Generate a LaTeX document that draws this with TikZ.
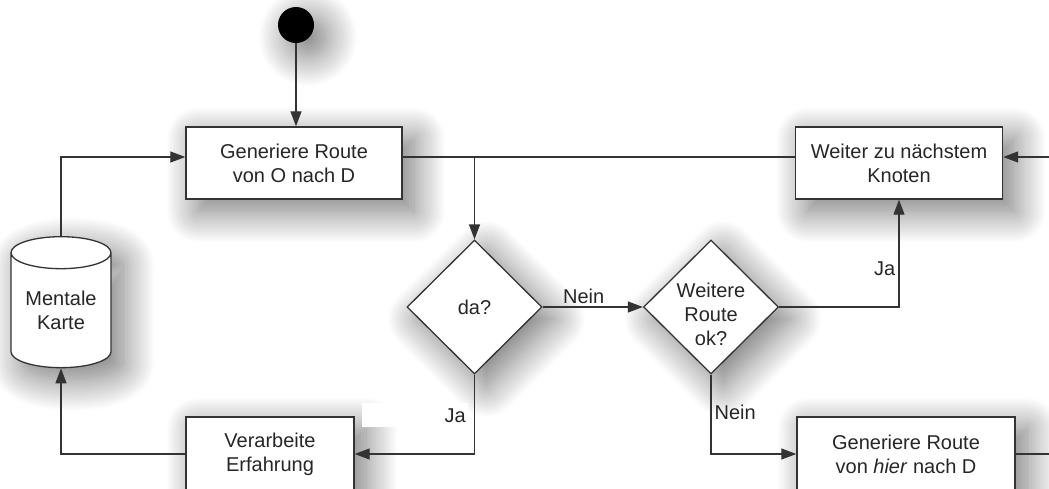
\documentclass[tikz,border=0pt]{standalone}
\usepackage{fontspec}
\setmainfont{Liberation Sans}
\usetikzlibrary{shapes.geometric,arrows.meta,shadows.blur}
\begin{document}
\begin{tikzpicture}[x=1pt,y=-1pt,
  font=\fontsize{20}{24}\selectfont,
  every node/.style={text=black!85},
  dropshadow/.style={blur shadow={shadow xshift=12pt,shadow yshift=-12pt,shadow blur radius=32pt,
    shadow blur steps=24,shadow opacity=55}},
  box/.style={draw=black!80,line width=1.4pt,fill=white,rectangle,align=center,inner sep=0pt,dropshadow},
  decision/.style={draw=black!80,line width=1.3pt,fill=white,diamond,inner sep=0pt,
    minimum width=135pt,minimum height=134pt,dropshadow},
  store/.style={draw=black!80,line width=1.3pt,fill=white,cylinder,shape border rotate=90,
    aspect=0.45,minimum width=100pt,minimum height=131pt,align=center,inner sep=0pt,dropshadow},
  flow/.style={draw=black!80,line width=1.3pt},
  arr/.style={flow,-{Triangle[length=15pt,width=11pt]}},
  tag/.style={inner sep=3pt}]

\useasboundingbox (0,0) rectangle (1049,488);

% nodes
\node[fill=black,circle,minimum size=36pt,inner sep=0pt,dropshadow] (start) at (296,25) {};
\node[box,minimum width=216pt,minimum height=72pt] (gen1) at (294,163) {Generiere Route\\von O nach D};
\node[box,minimum width=207pt,minimum height=72pt] (next) at (899,163) {Weiter zu nächstem\\Knoten};
\node[decision] (da) at (474.5,307) {};
\node (daq) at (474.5,307) {da?};
\node[decision] (ok) at (711,307) {};
\node[align=center] (okq) at (711,314) {Weitere\\Route\\ok?};
\node[box,minimum width=218pt,minimum height=74pt] (gen2) at (906,454) {Generiere Route\\von \textit{hier} nach D};
\node[box,minimum width=168pt,minimum height=74pt] (proc) at (270,454) {Verarbeite\\Erfahrung};
\node[store] (map) at (61,310.5) {Mentale\\Karte};

% free ends at the picture border
\coordinate (inR) at (1049,157);
\coordinate (outR) at (1049,454);

% connectors
\draw[arr] (start) -- (start |- gen1.north);
\draw[flow] ([yshift=6pt]gen1.east) -- ([yshift=6pt]next.west);
\draw[arr] (da.north |- inR) -- (da.north);
\draw[arr] (inR) -- (next.east |- inR);
\draw[arr] (da.east) -- node[tag,pos=0.41,above] (nein1) {Nein} (ok.west);
\draw[arr] (ok.east) -| node[tag,pos=0.68,left] (ja1) {Ja} (next.south);
\draw[arr] (ok.south) |- node[tag,pos=0.238,right] (nein2) {Nein} (gen2.west);
\draw[flow] (gen2.east) -- (outR);
\draw[arr] (da.south) |- node[pos=0.256,left=6pt,fill=white,minimum height=24pt,
  text width=102pt,align=right,inner xsep=2pt,inner ysep=0pt] (ja2) {Ja} (proc.east);
\draw[arr] (proc.west) -| (map.south);
\draw[arr] (map.north) |- ([yshift=6pt]gen1.west);
\end{tikzpicture}
\end{document}
